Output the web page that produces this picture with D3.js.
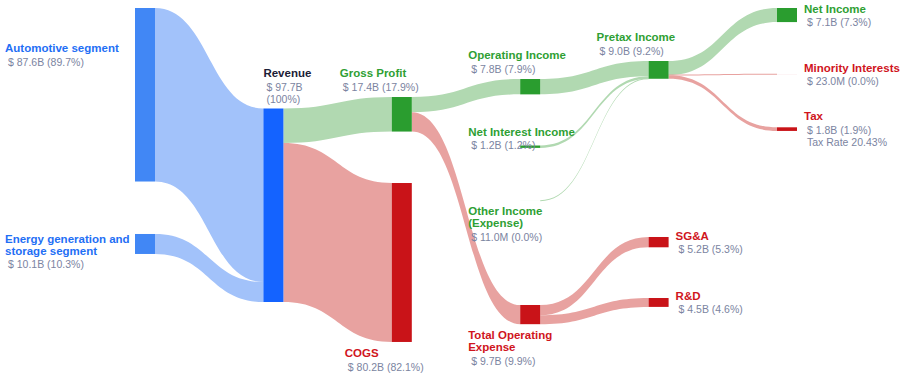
<!DOCTYPE html>
<html><head><meta charset="utf-8">
<script src="https://cdn.jsdelivr.net/npm/d3@7"></script>
<style>
body{margin:0;background:#fff;}
text{font-family:"Liberation Sans",Arial,Helvetica,sans-serif;}
</style>
</head><body>
<svg id="chart" width="900" height="379"></svg>
<script>
// ---------------- DATA ----------------
const nodeNames = [
  "Automotive segment",
  "Energy generation and storage segment",
  "Revenue",
  "Gross Profit",
  "COGS",
  "Operating Income",
  "Net Interest Income",
  "Other Income (Expense)",
  "Total Operating Expense",
  "Pretax Income",
  "SG&A",
  "R&D",
  "Net Income",
  "Minority Interests",
  "Tax"
];
// kind of each node: segment / revenue / profit / cost
const nodeKinds = ["segment","segment","revenue","profit","cost","profit","profit","profit","cost","profit","cost","cost","profit","cost","cost"];

// links (values in billions USD)
const linkSources = ["Automotive segment","Energy generation and storage segment","Revenue","Revenue","Gross Profit","Gross Profit","Operating Income","Net Interest Income","Other Income (Expense)","Total Operating Expense","Total Operating Expense","Pretax Income","Pretax Income","Pretax Income"];
const linkTargets = ["Revenue","Revenue","Gross Profit","COGS","Operating Income","Total Operating Expense","Pretax Income","Pretax Income","Pretax Income","SG&A","R&D","Net Income","Minority Interests","Tax"];
const linkValues  = [87.6, 10.09, 17.444, 80.246, 7.755, 9.689, 7.755, 1.2, 0.011, 5.2, 4.489, 7.111, 0.023, 1.832];

// ---------------- LAYOUT (positions / styles) ----------------
const nodeColumns = [0,0,1,2,2,3,3,3,3,4,4,4,5,5,5];
// vertical placement of each node's top, as a fraction of the plot height
const nodeYFrac = [0,0.6766,0.3009,0.2665,0.524,0.2126,0.4117,0.577,0.8892,0.1587,0.6856,0.8683,0,0.1985,0.3572];

const nodeFill = {segment:"#4187f5", revenue:"#1463ff", profit:"#2a9d2f", cost:"#c91318"};
const linkFill = {revenue:"#a2c2fa", profit:"#b1d9b1", cost:"#e8a2a0"};
const nameColor = {segment:"#1f6ff5", revenue:"#1b2036", profit:"#2f9f34", cost:"#d0151d"};
const valueColor = "#7b84a1";

// label placement: mode, dx, dy, wrap widths
const labelLayout = {
  "Automotive segment": {mode:"left", dy:44},
  "Energy generation and storage segment": {mode:"left", dy:9, wrap:130},
  "Revenue": {mode:"above", dx:0, dy:-31.5, vwrap:50},
  "Gross Profit": {mode:"above", dx:-52, dy:-20},
  "COGS": {mode:"below", dx:-47, dy:15.5},
  "Operating Income": {mode:"above", dx:-52, dy:-20},
  "Net Interest Income": {mode:"above", dx:-52, dy:-10},
  "Other Income (Expense)": {mode:"below", dx:-52, dy:14.3, wrap:90},
  "Total Operating Expense": {mode:"below", dx:-52, dy:15, wrap:100},
  "Pretax Income": {mode:"above", dx:-52, dy:-20},
  "SG&A": {mode:"right"},
  "R&D": {mode:"right"},
  "Net Income": {mode:"right"},
  "Minority Interests": {mode:"right"},
  "Tax": {mode:"right", extra:"taxRate"}
};

const W = 900, H = 379;
const nodeWidth = 20;
const svg = d3.select("#chart");

// ---------------- BUILD GRAPH ----------------
const nodes = nodeNames.map((name,i)=>({name, kind:nodeKinds[i], col:nodeColumns[i], yf:nodeYFrac[i], inLinks:[], outLinks:[]}));
const byName = new Map(nodes.map(n=>[n.name,n]));
const links = linkValues.map((v,i)=>({source:byName.get(linkSources[i]), target:byName.get(linkTargets[i]), value:v}));
links.forEach(l=>{l.source.outLinks.push(l); l.target.inLinks.push(l);});
nodes.forEach(n=>{
  n.inSum = d3.sum(n.inLinks,l=>l.value);
  n.outSum = d3.sum(n.outLinks,l=>l.value);
  n.value = n.inLinks.length ? n.inSum : n.outSum;
  n.size = Math.max(n.inSum, n.outSum);
});
const revenue = byName.get("Revenue").value;

// ---------------- SCALES ----------------
const x = d3.scaleLinear().domain([0,5]).range([135, 777]);
const y = d3.scaleLinear().domain([0,1]).range([8, 342]);
const k = d3.scaleLinear().domain([0, revenue]).range([0, 193.5]);

nodes.forEach(n=>{
  n.x0 = x(n.col); n.x1 = n.x0 + nodeWidth;
  n.y0 = y(n.yf); n.y1 = n.y0 + k(n.size);
});
// stack links on nodes
nodes.forEach(n=>{
  n.outLinks.sort((a,b)=>a.target.y0-b.target.y0);
  let yy = n.y0;
  n.outLinks.forEach(l=>{l.sy0 = yy; yy += k(l.value); l.sy1 = yy;});
  n.inLinks.sort((a,b)=>a.source.y0-b.source.y0);
  yy = n.y0;
  n.inLinks.forEach(l=>{l.ty0 = yy; yy += k(l.value); l.ty1 = yy;});
});

// ---------------- LINKS ----------------
const band = d3.area().curve(d3.curveBumpX).x(d=>d.x).y0(d=>d.y0).y1(d=>d.y1);
function widen(a,b){ // minimum visible thickness 1px
  if (b-a >= 1) return [a,b];
  const m=(a+b)/2; return [m-0.5,m+0.5];
}
svg.append("g").selectAll("path").data(links).join("path")
  .attr("d", l=>{
    const [s0,s1]=widen(l.sy0,l.sy1), [t0,t1]=widen(l.ty0,l.ty1);
    return band([{x:l.source.x1,y0:s0,y1:s1},{x:l.target.x0,y0:t0,y1:t1}]);
  })
  .attr("fill", l=>linkFill[l.target.kind]);

// ---------------- NODES ----------------
svg.append("g").selectAll("rect").data(nodes).join("rect")
  .attr("x", n=>n.x0).attr("y", n=>n.y0)
  .attr("width", nodeWidth).attr("height", n=>Math.max(0, n.y1-n.y0))
  .attr("fill", n=>nodeFill[n.kind]);

// ---------------- LABELS ----------------
const fmtB = d3.format(".1f");
function money(v){ return v >= 1 ? "$ " + fmtB(v) + "B" : "$ " + fmtB(v*1000) + "M"; }
function pct(v){ const p = v/revenue*100; return "(" + (Math.abs(p-100)<1e-9 ? "100" : fmtB(p)) + "%)"; }

const measurer = svg.append("text").attr("visibility","hidden");
function textWidth(str, size, weight){
  measurer.attr("font-size",size).attr("font-weight",weight).text(str);
  return measurer.node().getComputedTextLength();
}
function wrap(str, width, size, weight){
  if (!width) return [str];
  const words = str.split(" "); const lines=[]; let cur="";
  words.forEach(w=>{
    const t = cur ? cur+" "+w : w;
    if (cur && textWidth(t,size,weight) > width){ lines.push(cur); cur=w; } else cur=t;
  });
  if (cur) lines.push(cur);
  return lines;
}

const NAME_SIZE = 11.5, VALUE_SIZE = 10.5, NAME_LH = 12, VALUE_GAP = 13.5, VALUE_LH = 12.5, CAP = 8.5;
const lg = svg.append("g");
nodes.forEach(n=>{
  const L = labelLayout[n.name];
  const nameLines = wrap(n.name, L.wrap, NAME_SIZE, "bold");
  let valueLines = wrap(money(n.value) + " " + pct(n.value), L.vwrap, VALUE_SIZE, "normal");
  if (L.extra === "taxRate"){
    const pre = byName.get("Pretax Income").value;
    valueLines.push("Tax Rate " + d3.format(".2f")(n.value/pre*100) + "%");
  }
  const off = NAME_LH*(nameLines.length-1) + VALUE_GAP + VALUE_LH*(valueLines.length-1);
  let tx, b;
  if (L.mode === "left"){ tx = 5; b = n.y0 + L.dy; }
  else if (L.mode === "above"){ tx = n.x0 + L.dx; b = n.y0 + L.dy; }
  else if (L.mode === "below"){ tx = n.x0 + L.dx; b = n.y1 + L.dy; }
  else { tx = n.x1 + 7; const c=(n.y0+n.y1)/2; b = (2*c + CAP - off)/2; }
  nameLines.forEach((t,i)=>{
    lg.append("text").attr("x",tx).attr("y",b+i*NAME_LH)
      .attr("font-size",NAME_SIZE).attr("font-weight","bold")
      .attr("fill",nameColor[n.kind]).text(t);
  });
  const vb = b + NAME_LH*(nameLines.length-1) + VALUE_GAP;
  valueLines.forEach((t,i)=>{
    lg.append("text").attr("x",tx+3).attr("y",vb+i*VALUE_LH)
      .attr("font-size",VALUE_SIZE).attr("fill",valueColor).text(t);
  });
});
measurer.remove();
</script>
</body></html>
